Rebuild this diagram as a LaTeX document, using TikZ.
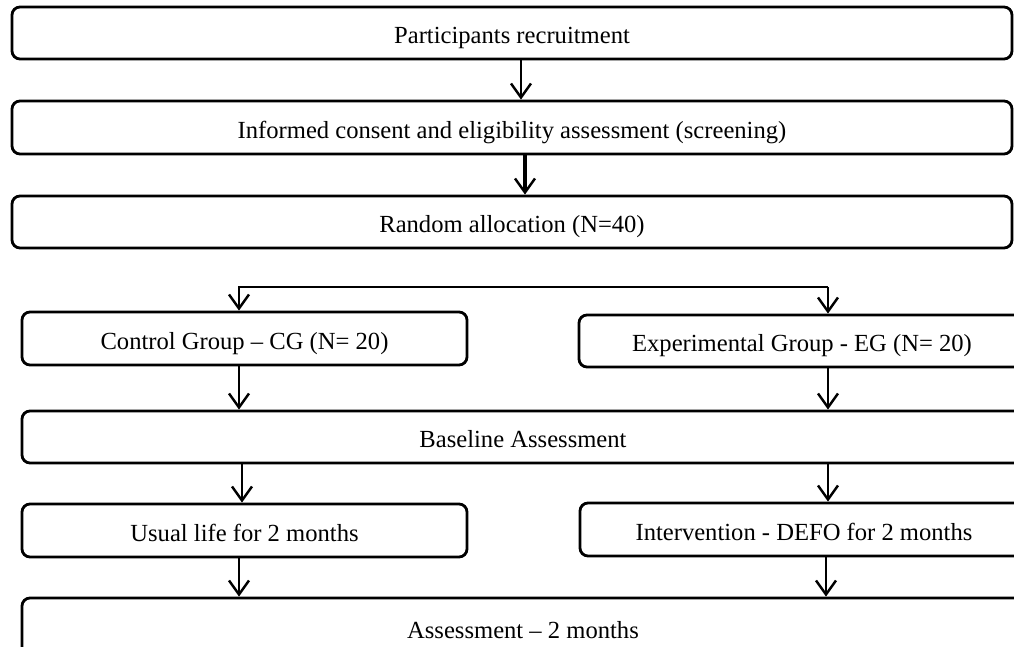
\documentclass[tikz,border=0pt]{standalone}
\usepackage{fontspec}
\setmainfont{Liberation Serif}
\usetikzlibrary{arrows.meta}
\tikzset{>={Straight Barb[length=2.8mm,width=4mm,line width=1.4pt]}}
\tikzset{stage/.style={draw,line width=1.6pt,rounded corners=1.6mm,inner sep=0pt,
    text height=12.8pt,text depth=0.4pt,font=\fontsize{14}{17}\selectfont},
  link/.style={->,line width=1.4pt}}

\begin{document}
\begin{tikzpicture}
            \useasboundingbox (0,0) rectangle (20.28,-12.94);
            \node[stage,minimum width=20cm,minimum height=1.04cm] (recruit) at (10.24,-0.66) {Participants recruitment};
            \node[stage,minimum width=20cm,minimum height=1.06cm] (consent) at (10.24,-2.55) {Informed consent and eligibility assessment (screening)};
            \node[stage,minimum width=20cm,minimum height=1.04cm] (random) at (10.24,-4.44) {Random allocation (N=40)};
            \node[stage,minimum width=8.9cm,minimum height=1.06cm] (cg) at (4.89,-6.77) {Control Group -- CG (N= 20)};
            \node[stage,minimum width=8.92cm,minimum height=1.04cm] (eg) at (16.04,-6.82) {Experimental Group - EG (N= 20)};
            \node[stage,minimum width=20.04cm,minimum height=1.04cm] (baseline) at (10.46,-8.74) {Baseline Assessment};
            \node[stage,minimum width=8.9cm,minimum height=1.06cm] (usual) at (4.89,-10.61) {Usual life for 2 months};
            \node[stage,minimum width=8.96cm,minimum height=1.06cm] (interv) at (16.08,-10.59) {Intervention - DEFO for 2 months};
            \node[stage,minimum width=20.04cm,minimum height=1.2cm] (assess) at (10.46,-12.56) {Assessment -- 2 months};
            \coordinate (colL) at (4.78,-5.74);
            \coordinate (colR) at (16.56,-5.74);
            \draw[link] ([xshift=0.18cm]recruit.south) -- ([xshift=0.18cm]consent.north);
            \draw[link,line width=1.9pt] ([xshift=0.26cm]consent.south) -- ([xshift=0.26cm]random.north);
            \draw[link] (colR) -- (colL) -- (colL |- cg.north);
            \draw[link] (colR) -- (colR |- eg.north);
            \draw[link] (colL |- cg.south) -- (colL |- baseline.north);
            \draw[link,line width=0.7pt] (colR |- eg.south) -- (colR |- baseline.north);
            \draw[link] ([xshift=0.06cm]colL |- baseline.south) -- ([xshift=0.06cm]colL |- usual.north);
            \draw[link] (colR |- baseline.south) -- (colR |- interv.north);
            \draw[link] (colL |- usual.south) -- (colL |- assess.north);
            \draw[link] ([xshift=-0.04cm]colR |- interv.south) -- ([xshift=-0.04cm]colR |- assess.north);
        \end{tikzpicture}
\end{document}
